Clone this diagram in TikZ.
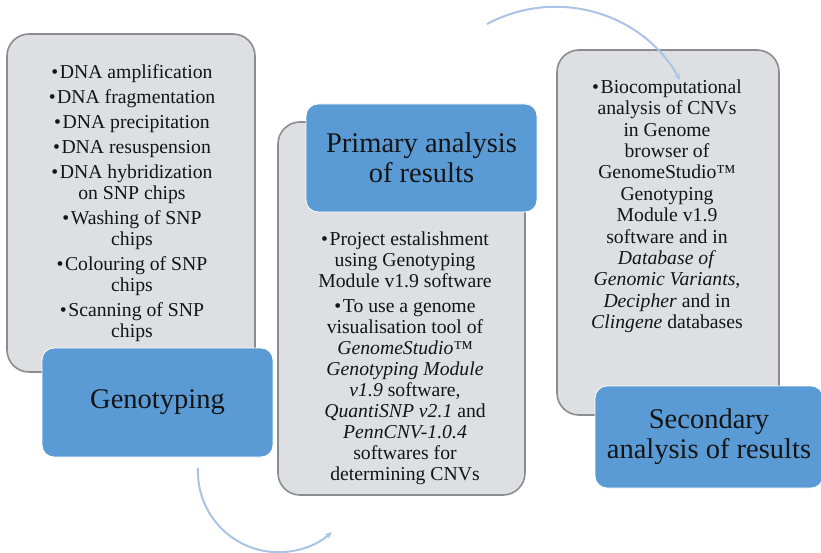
\documentclass[tikz,border=0pt]{standalone}
\usepackage{fontspec}
\setmainfont{Liberation Serif}
\usetikzlibrary{arrows.meta}
\definecolor{boxgray}{RGB}{222,223,226}
\definecolor{edgegray}{RGB}{140,140,142}
\definecolor{titleblue}{RGB}{91,155,213}
\definecolor{arcblue}{RGB}{170,196,232}
\definecolor{inkc}{RGB}{20,20,20}
\newcommand{\bul}{\textbullet\kern1.5pt}
\tikzset{
  graybox/.style={draw=edgegray, line width=1.6pt, fill=boxgray, rounded corners=22pt, inner sep=0pt},
  bluebox/.style={draw=white, line width=0.8pt, fill=titleblue, rounded corners=12pt, inner sep=0pt},
  bodytext/.style={align=center, inner sep=0pt, text=inkc, font=\fontsize{19.7}{21}\selectfont},
  titletext/.style={align=center, inner sep=0pt, text=inkc, font=\fontsize{28.5}{30}\selectfont},
  arcline/.style={draw=arcblue, line width=2pt, -{Stealth[length=7pt,width=6pt]}}
}
\begin{document}
\begin{tikzpicture}[x=1pt,y=-1pt]
\useasboundingbox (0,0) rectangle (821,553);
\fill[white] (0,0) rectangle (821,553);
% gray boxes
\node[graybox, minimum width=248pt, minimum height=338pt] (g1) at (131,203) {};
\node[graybox, minimum width=247pt, minimum height=373pt] (g2) at (401.5,308.5) {};
\node[graybox, minimum width=222pt, minimum height=365pt] (g3) at (668,232.5) {};
% body texts
\node[bodytext, anchor=north] (t1) at (132,64.5) {\bul DNA amplification\\[4pt]
\bul DNA fragmentation\\[4pt]
\bul DNA precipitation\\[4pt]
\bul DNA resuspension\\[4pt]
\bul DNA hybridization\\ on SNP chips\\[4pt]
\bul Washing of SNP\\ chips\\[4pt]
\bul Colouring of SNP\\ chips\\[4pt]
\bul Scanning of SNP\\ chips};
\node[bodytext, anchor=north] (t2) at (405,231.5) {\bul Project estalishment\\ using Genotyping\\ Module v1.9 software\\[4pt]
\bul To use a genome\\ visualisation tool of\\ \textit{GenomeStudio™}\\ \textit{Genotyping Module}\\ \textit{v1.9} software,\\ \textit{QuantiSNP v2.1} and\\ \textit{PennCNV-1.0.4}\\ softwares for\\ determining CNVs};
\node[bodytext, anchor=north, font=\fontsize{19.7}{21.4}\selectfont] (t3) at (667,79.5) {\bul Biocomputational\\ analysis of CNVs\\ in Genome\\ browser of\\ GenomeStudio™\\ Genotyping\\ Module v1.9\\ software and in\\ \textit{Database of}\\ \textit{Genomic Variants},\\ \textit{Decipher} and in\\ \textit{Clingene} databases};
% blue title boxes
\node[bluebox, minimum width=231pt, minimum height=109pt] (b1) at (157.5,402.5) {};
\node[titletext] (h1) at (b1.center) {Genotyping};
\node[bluebox, minimum width=231pt, minimum height=108pt] (b2) at (421.5,158) {};
\node[titletext] (h2) at (b2.center) {Primary analysis\\ of results};
\node[bluebox, minimum width=228pt, minimum height=102pt] (b3) at (709,437) {};
\node[titletext] (h3) at (b3.center) {Secondary\\ analysis of results};
% arcs
\coordinate (c1) at (555,150.5);
\coordinate (c2) at (278.6,471.5);
\draw[arcline] ([shift={(-118.3:143.6)}]c1) arc[start angle=-118.3, end angle=-29.4, radius=143.6];
\draw[arcline] ([shift={(-177.5:80.7)}]c2) arc[start angle=-177.5, end angle=-311.4, radius=80.7];
\end{tikzpicture}
\end{document}
